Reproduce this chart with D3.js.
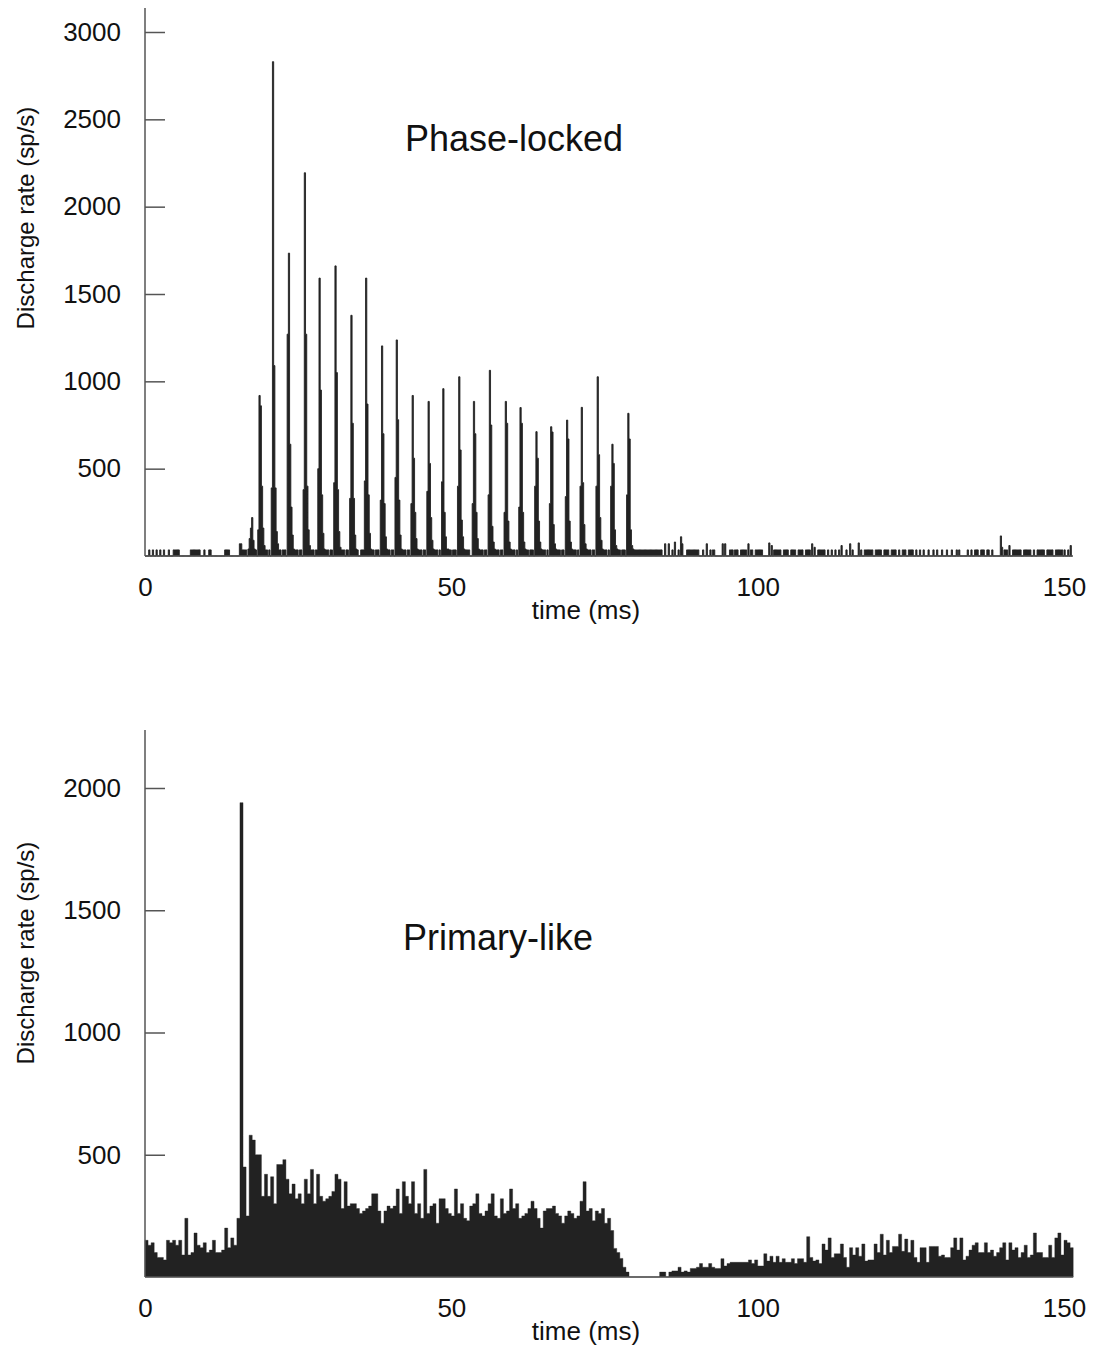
<!DOCTYPE html>
<html>
<head>
<meta charset="utf-8">
<script src="https://cdn.jsdelivr.net/npm/d3@7"></script>
<style>
body { margin: 0; background: #fff; }
text { font-family: "Liberation Sans", Arial, sans-serif; fill: #111; }
</style>
</head>
<body>
<svg id="chart" width="1096" height="1348"></svg>
<script>
// ---- phase-locked unit (0.2 ms bins) ----
var phaseBin = 0.2;
var oneSpike = 35; // rate of a single spike in one bin

// time (ms) of the tallest bin of each cycle
var phasePeakTimes = [17.4, 18.6, 20.8, 23.4, 26.0, 28.4, 31.0, 33.6, 36.0, 38.6, 41.0, 43.6, 46.2,
    48.6, 51.2, 53.6, 56.2, 58.8, 61.2, 63.8, 66.2, 68.8, 71.2, 73.8, 76.2, 78.8];

// rates of 6 bins per cycle, starting one bin before the peak
var phasePeakBins = [
    [160, 220, 90, 40, 35, 0],
    [150, 919, 860, 400, 160, 60],
    [390, 2830, 1090, 390, 140, 70],
    [1270, 1734, 640, 280, 120, 40],
    [380, 2194, 1270, 400, 150, 60],
    [500, 1591, 950, 350, 130, 40],
    [420, 1661, 1050, 380, 140, 50],
    [330, 1378, 760, 330, 120, 40],
    [430, 1591, 870, 350, 130, 40],
    [320, 1203, 700, 300, 110, 40],
    [450, 1237, 780, 320, 120, 40],
    [300, 919, 560, 250, 100, 40],
    [370, 885, 530, 220, 90, 40],
    [425, 958, 250, 110, 40, 40],
    [400, 1026, 607, 206, 110, 40],
    [300, 885, 700, 250, 100, 40],
    [350, 1063, 750, 170, 80, 40],
    [250, 885, 760, 200, 80, 40],
    [280, 850, 760, 250, 80, 40],
    [400, 712, 560, 200, 80, 40],
    [300, 740, 710, 180, 70, 40],
    [340, 778, 670, 200, 80, 40],
    [400, 851, 420, 180, 70, 40],
    [400, 1026, 580, 220, 90, 40],
    [400, 640, 530, 150, 60, 40],
    [350, 817, 670, 150, 60, 40]
];

// background bins: [start ms, end ms, rate] (rate defaults to one spike)
var phaseBgRuns = [
    [0.6, 0.8], [1.2, 1.4], [1.8, 2.0], [2.4, 2.6], [3.0, 3.2], [3.8, 4.0], [4.6, 5.6], [7.4, 9.0],
    [9.6, 9.8], [10.4, 10.8], [13.0, 13.8], [15.4, 15.8, 70], [15.8, 16.6], [16.8, 17.0, 40], [17.0, 17.2, 100],
    [19.6, 20.0], [20.2, 20.4], [21.8, 22.2], [22.4, 23.0], [24.4, 25.0], [25.2, 25.6], [27.0, 27.6], [27.8, 28.2],
    [29.4, 30.0], [30.2, 30.6], [32.0, 32.6], [32.8, 33.2], [34.6, 34.8], [35.2, 35.8], [37.0, 37.4], [37.6, 38.2],
    [39.6, 40.0], [40.2, 40.6], [42.0, 42.6], [42.8, 43.2], [44.6, 45.2], [45.4, 45.8], [47.2, 47.8], [48.0, 48.2],
    [49.6, 50.0], [50.2, 50.8], [52.2, 53.0], [54.6, 55.2], [55.4, 55.8], [57.2, 57.8], [58.0, 58.4], [59.8, 60.4],
    [60.6, 60.8], [62.2, 62.6], [62.8, 63.4], [64.8, 65.4], [65.6, 65.8], [67.2, 67.8], [68.0, 68.4], [69.8, 70.4],
    [70.6, 70.8], [72.2, 72.8], [73.0, 73.4], [74.8, 75.4], [75.6, 75.8], [77.2, 77.6], [77.8, 78.4],
    [79.8, 84.4], [84.8, 85.0, 70], [85.4, 85.6, 70], [86.0, 86.2], [86.4, 86.6, 80], [87.0, 87.2], [87.4, 87.6, 110],
    [87.6, 87.8, 70], [88.4, 90.4], [91.0, 91.2], [91.6, 91.8, 70], [92.2, 92.4], [92.6, 93.0], [94.2, 94.4, 70],
    [94.6, 94.8, 70], [95.4, 96.0], [96.2, 96.8], [97.2, 98.2], [98.4, 98.6, 70], [98.8, 99.2], [99.6, 100.8],
    [101.8, 102.0, 75], [102.2, 102.4, 60], [102.6, 103.8], [104.2, 105.0], [105.4, 106.2], [106.6, 107.4],
    [107.8, 108.6], [108.8, 109.0, 70], [109.2, 109.4, 50], [109.8, 111.0], [111.4, 111.6], [112.0, 112.2],
    [112.6, 112.8], [113.2, 113.4], [113.6, 113.8, 60], [114.4, 114.6], [115.0, 115.2, 70], [115.4, 115.6],
    [116.4, 116.6, 75], [116.8, 117.0], [117.4, 118.8], [119.2, 120.2], [120.6, 121.4], [121.8, 122.6],
    [123.0, 123.2], [123.6, 124.2], [124.6, 125.4], [125.8, 126.0], [126.4, 126.6], [127.0, 127.2], [127.8, 128.0],
    [128.6, 128.8], [129.2, 129.4], [130.0, 130.2], [130.8, 131.0], [131.6, 131.8], [132.4, 132.6], [132.8, 133.0],
    [134.2, 134.4], [134.8, 135.0], [135.4, 136.0], [136.4, 137.0], [137.4, 137.8], [138.2, 138.4],
    [139.6, 139.8, 115], [139.8, 140.0, 50], [140.2, 140.8], [141.0, 141.2, 60], [141.6, 143.0], [143.4, 144.6],
    [145.0, 145.2], [145.6, 146.8], [147.2, 148.2], [148.6, 149.8], [150.0, 150.2], [150.6, 150.8], [151.0, 151.2, 60]
];

// ---- primary-like unit (0.5 ms bins, from 0 ms) ----
var primaryBin = 0.5;
var primaryRates = [
    150, 130, 140, 100, 80, 80, 70, 150, 140, 150, 130, 150, 90, 240, 90, 100, 180, 130, 120, 140,
    100, 110, 150, 100, 100, 110, 200, 120, 160, 130, 240,
    1940, 450, 250,
    580, 560, 500, 500, 330, 420, 330, 410, 300, 460, 460, 480, 400,
    340, 380, 320, 340, 300, 400, 340, 440, 300, 420, 330, 310, 320,
    330, 350, 420, 400, 280, 390, 290, 300, 300, 280, 260, 270, 280,
    290, 340, 340, 270, 220, 270, 290, 280, 290, 360, 260, 390, 330,
    300, 390, 260, 300, 240, 440, 260, 290, 300, 220, 320, 320, 280,
    260, 250, 360, 260, 300, 240, 230, 290, 300, 340, 260, 250, 270,
    300, 340, 250, 240, 320, 260, 270, 360, 280, 300, 240, 250, 260,
    280, 310, 280, 240, 200, 270, 280, 280, 290, 260, 250, 220, 250,
    270, 260, 240, 250, 310, 390, 270, 280, 230, 270, 260, 280, 220,
    240, 190, 117,
    100, 76, 40, 20,
    0, 0, 0, 0, 0, 0, 0, 0, 0, 0,
    20, 20, 0, 20, 25, 25, 40, 20, 25,
    20, 35, 35, 40, 55, 40, 40, 55, 40,
    35, 35, 75, 45, 55, 60, 60, 60, 60,
    60, 60, 70, 55, 70, 45, 45, 95, 65,
    85, 60, 85, 60, 75, 60, 60, 75, 55, 75,
    75, 60, 165, 80, 65, 70, 55, 135, 110, 160,
    80, 95, 95, 135, 80, 40, 120, 90, 120, 85,
    135, 65, 70, 70, 135, 100, 175, 90, 150, 100,
    125, 125, 175, 105, 155, 100, 150, 80, 60, 120,
    120, 60, 125, 125, 125, 85, 90, 80, 80, 120,
    160, 110, 160, 70, 85, 110, 130, 140, 100, 100,
    140, 100, 110, 85, 100, 120, 140, 70, 140, 110,
    120, 80, 100, 130, 80, 90, 180, 100, 100, 80,
    80, 130, 80, 160, 180, 90, 150,
    140, 120
];

var xTicks = [0, 50, 100, 150];
var phaseYTicks = [500, 1000, 1500, 2000, 2500, 3000];
var primaryYTicks = [500, 1000, 1500, 2000];

// build the phase-locked histogram from cycles + background bins
var phaseRates = d3.range(Math.round(151.4 / phaseBin)).map(function () { return 0; });
phaseBgRuns.forEach(function (r) {
    var v = r.length > 2 ? r[2] : oneSpike;
    for (var i = Math.round(r[0] / phaseBin); i < Math.round(r[1] / phaseBin); i++) {
        phaseRates[i] = Math.max(phaseRates[i], v);
    }
});
phasePeakTimes.forEach(function (t, j) {
    var i0 = Math.round(t / phaseBin) - 1;
    phasePeakBins[j].forEach(function (v, k) {
        phaseRates[i0 + k] = Math.max(phaseRates[i0 + k], v);
    });
});

var svg = d3.select('#chart');
var axisColor = '#555';

var x = d3.scaleLinear().domain([0, 150]).range([145, 1064]);

function drawPanel(p) {
    var y = d3.scaleLinear().domain([0, p.yRef]).range([p.base, p.yRefPx]);
    var g = svg.append('g');

    var data = p.rates.map(function (v, i) { return {t: i * p.bin, v: v}; });
    data.push({t: p.rates.length * p.bin, v: 0});

    var area = d3.area()
        .curve(d3.curveStepAfter)
        .x(function (d) { return x(d.t); })
        .y0(y(0))
        .y1(function (d) { return y(d.v); });

    g.append('path')
        .datum(data)
        .attr('d', area)
        .attr('fill', '#222')
        .attr('stroke', '#222')
        .attr('stroke-width', p.strokeW);

    // baseline and y axis line
    g.append('line')
        .attr('x1', x(0)).attr('x2', x(p.rates.length * p.bin))
        .attr('y1', y(0)).attr('y2', y(0))
        .attr('stroke', axisColor).attr('stroke-width', 1.5);
    g.append('line')
        .attr('x1', x(0)).attr('x2', x(0))
        .attr('y1', y(0)).attr('y2', p.axisTop)
        .attr('stroke', axisColor).attr('stroke-width', 1.5);

    var yAxis = g.append('g')
        .attr('transform', 'translate(' + x(0) + ',0)')
        .call(d3.axisLeft(y).tickValues(p.yTicks).tickFormat(d3.format('d'))
            .tickSizeInner(-20).tickSizeOuter(0).tickPadding(24));
    yAxis.select('.domain').remove();
    yAxis.selectAll('line').attr('stroke', axisColor).attr('stroke-width', 1.5);
    yAxis.selectAll('text').style('font-size', '26px').attr('fill', '#111');

    var xAxis = g.append('g')
        .attr('transform', 'translate(0,' + y(0) + ')')
        .call(d3.axisBottom(x).tickValues(xTicks).tickFormat(d3.format('d')).tickSize(0).tickPadding(22));
    xAxis.select('.domain').remove();
    xAxis.selectAll('text').style('font-size', '26px').attr('fill', '#111');

    g.append('text')
        .attr('x', 586).attr('y', p.base + 63)
        .attr('text-anchor', 'middle')
        .style('font-size', '26px')
        .text('time (ms)');

    g.append('text')
        .attr('transform', 'translate(34,' + p.labelY + ') rotate(-90)')
        .attr('text-anchor', 'middle')
        .style('font-size', '24px')
        .text('Discharge rate (sp/s)');

    g.append('text')
        .attr('x', p.titleX).attr('y', p.titleY)
        .style('font-size', '36px')
        .text(p.title);
}

drawPanel({
    rates: phaseRates, bin: phaseBin,
    yRef: 3000, yRefPx: 32, base: 556, axisTop: 8,
    yTicks: phaseYTicks, labelY: 218,
    title: 'Phase-locked', titleX: 405, titleY: 151,
    strokeW: 0.9
});

drawPanel({
    rates: primaryRates, bin: primaryBin,
    yRef: 2000, yRefPx: 788, base: 1277, axisTop: 730,
    yTicks: primaryYTicks, labelY: 953,
    title: 'Primary-like', titleX: 403, titleY: 950,
    strokeW: 0.4
});
</script>
</body>
</html>
